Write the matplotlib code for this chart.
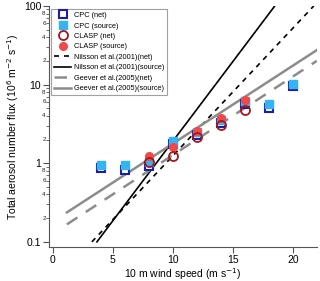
import math
import matplotlib
matplotlib.use("Agg")
import matplotlib.pyplot as plt
from matplotlib.ticker import FixedLocator, NullFormatter

plt.rcParams['font.family'] = ['Liberation Sans', 'DejaVu Sans']

# measured fluxes (10^6 m^-2 s^-1) vs 10 m wind speed
cpc_u = [4, 6, 8, 10, 12, 14, 16, 18, 20]
cpc_net = [0.86, 0.83, 0.93, 1.75, 2.3, 3.2, 5.6, 5.0, 9.5]
cpc_src = [0.96, 0.94, 1.05, 1.9, 2.5, 3.5, 6.2, 5.6, 10.3]
clasp_u = [8, 10, 12, 14, 16]
clasp_net = [1.05, 1.25, 2.15, 3.1, 4.7]
clasp_src = [1.25, 1.6, 2.6, 3.8, 6.3]

# parameterisation lines, end points
nil_net_u = [3.25, 21.75]
nil_net_f = [0.1, 100]
nil_src_u = [3.67, 18.5]
nil_src_f = [0.1, 100]
gee_net_u = [1.17, 22]
gee_net_f = [0.167, 20.0]
gee_src_u = [1.17, 22]
gee_src_f = [0.237, 27.4]

fig = plt.figure(figsize=(3.2, 2.81), dpi=100)
ax = fig.add_axes([0.153, 0.121, 0.837, 0.858])

ax.plot(cpc_u, cpc_net, 's', mfc='white', mec='#1c1cb0', mew=1.5, ms=6.3,
        label='CPC (net)', zorder=3)
ax.plot(cpc_u, cpc_src, 's', color='#36b4f2', ms=5.8, label='CPC (source)', zorder=4)
ax.plot(clasp_u, clasp_net, 'o', mfc='none', mec='#a8161a', mew=1.3, ms=6.5,
        label='CLASP (net)', zorder=5)
ax.plot(clasp_u, clasp_src, 'o', color='#f24848', ms=5.5, label='CLASP (source)', zorder=4)

ax.plot(nil_net_u, nil_net_f, color='black', lw=1.2, dashes=(3, 3),
        label='Nilsson et al.(2001)(net)')
ax.plot(nil_src_u, nil_src_f, color='black', lw=1.2,
        label='Nilsson et al.(2001)(source)')
ax.plot(gee_net_u, gee_net_f, color='#8c8c8c', lw=1.8, dashes=(5, 4),
        label='Geever et al.(2005)(net)')
ax.plot(gee_src_u, gee_src_f, color='#8c8c8c', lw=1.8,
        label='Geever et al.(2005)(source)')

ax.set_yscale('log')
ax.set_xlim(-0.33, 22)
ax.set_ylim(0.086, 100)

for s in ['top', 'right']:
    ax.spines[s].set_visible(False)
for s in ['left', 'bottom']:
    ax.spines[s].set_color('#555555')
    ax.spines[s].set_linewidth(0.8)

ax.set_xticks([0, 5, 10, 15, 20])
ax.tick_params(axis='x', direction='out', length=4, width=0.8, color='#555555',
               labelsize=7.5, pad=1.5)
ax.set_yticks([0.1, 1, 10, 100])
ax.set_yticklabels(['0.1', '1', '10', '100'])
ax.tick_params(axis='y', which='major', direction='out', length=4.5, width=0.8,
               color='#555555', labelsize=7.5, pad=1)

labelled = []
unlabelled = []
for d in [0.1, 1, 10]:
    for m in [2, 4, 6, 8]:
        labelled.append(m * d)
    for m in [3, 5, 7, 9]:
        unlabelled.append(m * d)
ax.yaxis.set_minor_locator(FixedLocator(sorted(labelled + unlabelled)))
ax.yaxis.set_minor_formatter(NullFormatter())
ax.tick_params(axis='y', which='minor', direction='out', length=2, width=0.6,
               color='#555555')
trans = ax.get_yaxis_transform()
for v in labelled:
    digit = int(round(v / 10 ** math.floor(math.log10(v))))
    ax.text(-0.012, v, str(digit), transform=trans, ha='right', va='center',
            fontsize=4.5, color='#222222')

ax.set_xlabel('10 m wind speed (m s$^{-1}$)', fontsize=7.5, labelpad=1)
ax.set_ylabel('Total aerosol number flux (10$^6$ m$^{-2}$ s$^{-1}$)', fontsize=7.5,
              labelpad=2)

leg = ax.legend(loc='upper left', bbox_to_anchor=(0.0, 0.995), fontsize=5.3,
                frameon=True, fancybox=False, handlelength=2.4, handletextpad=0.4,
                borderpad=0.35, labelspacing=0.45, borderaxespad=0.3)
leg.get_frame().set_edgecolor('#888888')
leg.get_frame().set_linewidth(0.8)

fig.savefig('out.png', dpi=100)
